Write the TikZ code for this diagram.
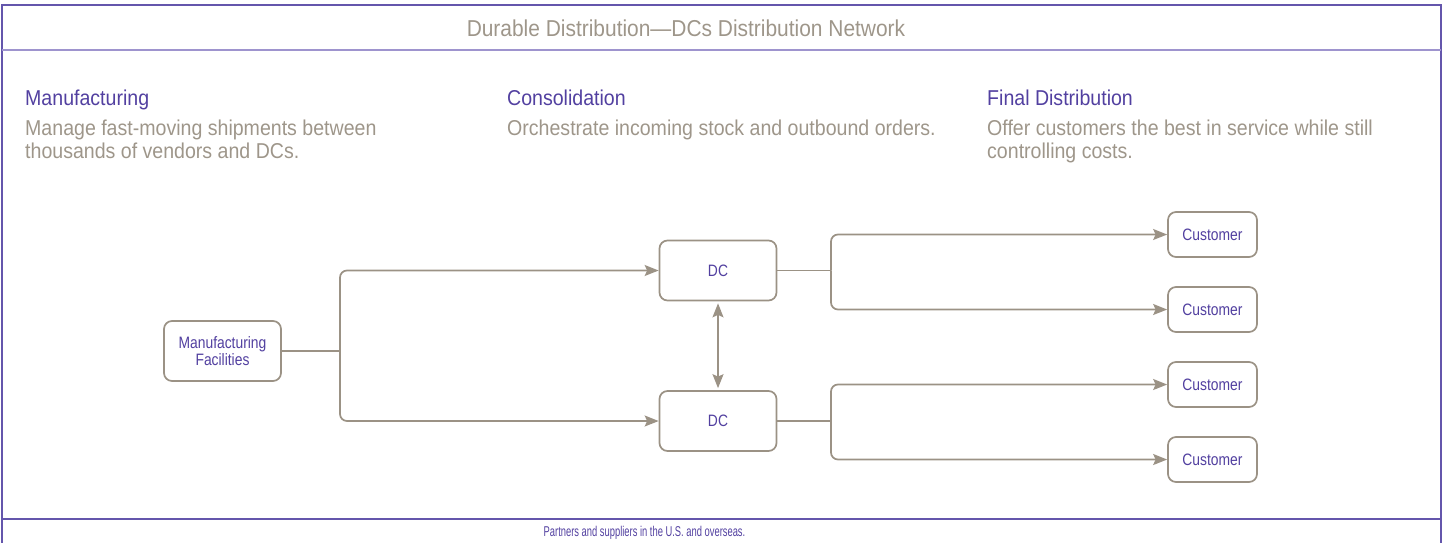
\documentclass[tikz,border=0pt]{standalone}
\usepackage{fontspec}
\setmainfont{Liberation Sans}
\newfontfamily\cf[FakeStretch=0.91]{Liberation Sans}
\newfontfamily\cn[FakeStretch=0.84]{Liberation Sans}
\newfontfamily\cff[FakeStretch=0.66]{Liberation Sans}
\usetikzlibrary{arrows.meta}
\definecolor{linegray}{RGB}{155,146,133}
\definecolor{textgray}{RGB}{158,150,138}
\definecolor{purp}{RGB}{82,64,160}
\definecolor{framepurp}{RGB}{100,86,172}
\definecolor{lightpurp}{RGB}{158,148,206}
\tikzset{
  box/.style={draw=linegray, line width=1.7pt, rounded corners=8pt, fill=white,
    text=purp, font=\cn\fontsize{16.5}{17}\selectfont, align=center, inner sep=2pt},
  conn/.style={draw=linegray, line width=1.7pt},
  tip/.tip={Stealth[length=14pt,width=11pt,inset=2.5pt]},
  arr/.style={conn, rounded corners=7pt, -tip},
  darr/.style={conn, tip-tip},
  head/.style={anchor=base west, inner sep=0pt, text=purp, font=\cf\fontsize{21.5}{23}\selectfont},
  desc/.style={anchor=base west, inner sep=0pt, text=textgray, font=\cf\fontsize{21.5}{23}\selectfont},
}
\begin{document}
\begin{tikzpicture}[x=1pt,y=-1pt]
\useasboundingbox (0,0) rectangle (1443,543);
% frame
\draw[framepurp, line width=2pt] (2,545) -- (2,5) -- (1440.5,5) -- (1440.5,545);
\draw[lightpurp, line width=2pt] (2,50) -- (1440.5,50);
\draw[framepurp, line width=1.8pt] (2,519) -- (1440.5,519);
% title
\node[anchor=base, inner sep=0pt, text=textgray, font=\cf\fontsize{23}{26}\selectfont] (title) at (686,37) {Durable Distribution—DCs Distribution Network};
% headings
\node[head] (h1) at (25,105) {Manufacturing};
\node[desc] (d1a) at (25,135) {Manage fast-moving shipments between};
\node[desc] (d1b) at (25,158) {thousands of vendors and DCs.};
\node[head] (h2) at (507,105) {Consolidation};
\node[desc] (d2a) at (507,135) {Orchestrate incoming stock and outbound orders.};
\node[head] (h3) at (987,105) {Final Distribution};
\node[desc] (d3a) at (987,135) {Offer customers the best in service while still};
\node[desc] (d3b) at (987,158) {controlling costs.};
% nodes
\node[box, minimum width=117pt, minimum height=60pt] (mf) at (222.5,351) {Manufacturing\\Facilities};
\node[box, minimum width=117pt, minimum height=60pt] (dc1) at (718,270.5) {DC};
\node[box, minimum width=117pt, minimum height=60pt] (dc2) at (718,421) {DC};
\node[box, minimum width=89pt, minimum height=45pt] (c1) at (1212.5,234.5) {Customer};
\node[box, minimum width=89pt, minimum height=45pt] (c2) at (1212.5,309.5) {Customer};
\node[box, minimum width=89pt, minimum height=45pt] (c3) at (1212.5,384.5) {Customer};
\node[box, minimum width=89pt, minimum height=45pt] (c4) at (1212.5,459.5) {Customer};
% junctions
\coordinate (j1) at (340,351);
\coordinate (j2) at (831,270.5);
\coordinate (j3) at (831,421);
% connectors
\draw[conn] (mf.east) -- (j1);
\draw[arr] (j1) |- (dc1.west);
\draw[arr] (j1) |- (dc2.west);
\draw[conn] (dc1.east) -- (j2);
\draw[arr] (j2) |- (c1.west);
\draw[arr] (j2) |- (c2.west);
\draw[conn] (dc2.east) -- (j3);
\draw[arr] (j3) |- (c3.west);
\draw[arr] (j3) |- (c4.west);
\draw[darr, shorten <=2pt, shorten >=2pt] (dc1.south) -- (dc2.north);
% footer
\node[anchor=base, inner sep=0pt, text=purp, font=\cff\fontsize{14.2}{15}\selectfont] (foot) at (644.5,536) {Partners and suppliers in the U.S. and overseas.};
\end{tikzpicture}
\end{document}
